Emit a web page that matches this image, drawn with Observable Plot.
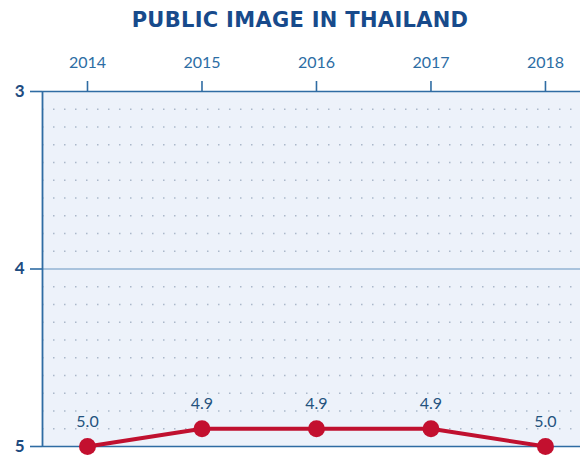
<!DOCTYPE html>
<html>
<head>
<meta charset="utf-8">
<script src="https://cdn.jsdelivr.net/npm/d3@7"></script>
<script src="https://cdn.jsdelivr.net/npm/@observablehq/plot@0.6"></script>
<style>
  body { margin: 0; background: #ffffff; }
  #title {
    height: 40px; line-height: 40px; text-align: center; padding-left: 20px;
    font-family: "DejaVu Sans", sans-serif; font-weight: bold; font-size: 21px;
    color: #174a8b; letter-spacing: 0.3px; white-space: nowrap;
  }
  #chart svg { display: block; }
</style>
</head>
<body>
<div id="title">PUBLIC IMAGE IN THAILAND</div>
<div id="chart"></div>
<script>
const years = [2014, 2015, 2016, 2017, 2018];
const values = [5.0, 4.9, 4.9, 4.9, 5.0];
const yTicks = [3, 4, 5];
const title = "PUBLIC IMAGE IN THAILAND";

const data = years.map((y, i) => ({year: y, value: values[i]}));
const xMin = 2013.607, xMax = 2018.306;
const dotLevels = d3.range(31, 50).map(d => d / 10).filter(d => Math.abs(d - 4) > 1e-9);

const axisColor = "#2f6ca3";
const chart = Plot.plot({
  width: 580,
  height: 415,
  marginLeft: 42,
  marginRight: 0,
  marginTop: 51,
  marginBottom: 9,
  style: {background: "transparent", overflow: "visible"},
  x: {domain: [xMin, xMax], axis: null},
  y: {domain: [3, 5], reverse: true, axis: null},
  marks: [
    Plot.frame({fill: "#edf2fa", stroke: null}),
    Plot.gridY(dotLevels, {stroke: "#8f9fb5", strokeOpacity: 0.7, strokeWidth: 1.5, strokeDasharray: "1.5,9.5"}),
    Plot.ruleY([4], {stroke: "#a9c3dd", strokeWidth: 2}),
    Plot.ruleY([3, 5], {stroke: axisColor, strokeWidth: 1.6}),
    Plot.ruleX([xMin], {stroke: axisColor, strokeWidth: 1.8}),
    Plot.axisX(years, {anchor: "top", label: null, tickSize: 11, tickPadding: 13, tickFormat: d => String(d),
      stroke: axisColor, strokeWidth: 1.6, fill: "#2c6da4", fontSize: 16, fontFamily: "Lato, sans-serif"}),
    Plot.axisY(yTicks, {anchor: "left", label: null, tickSize: 12, tickPadding: 6, tickFormat: d => String(d),
      stroke: axisColor, strokeWidth: 1.6, fill: "#1d4b80", fontSize: 17, fontWeight: "bold", fontFamily: "Lato, sans-serif"}),
    Plot.line(data, {x: "year", y: "value", stroke: "#c0102f", strokeWidth: 4}),
    Plot.dot(data, {x: "year", y: "value", r: 8.5, fill: "#c3102f", stroke: null}),
    Plot.text(data, {x: "year", y: "value", text: d => d.value.toFixed(1), dy: -20, lineAnchor: "bottom",
      fill: "#24527e", fontSize: 16, fontFamily: "Lato, sans-serif"})
  ]
});
document.getElementById("chart").appendChild(chart);
</script>
</body>
</html>
